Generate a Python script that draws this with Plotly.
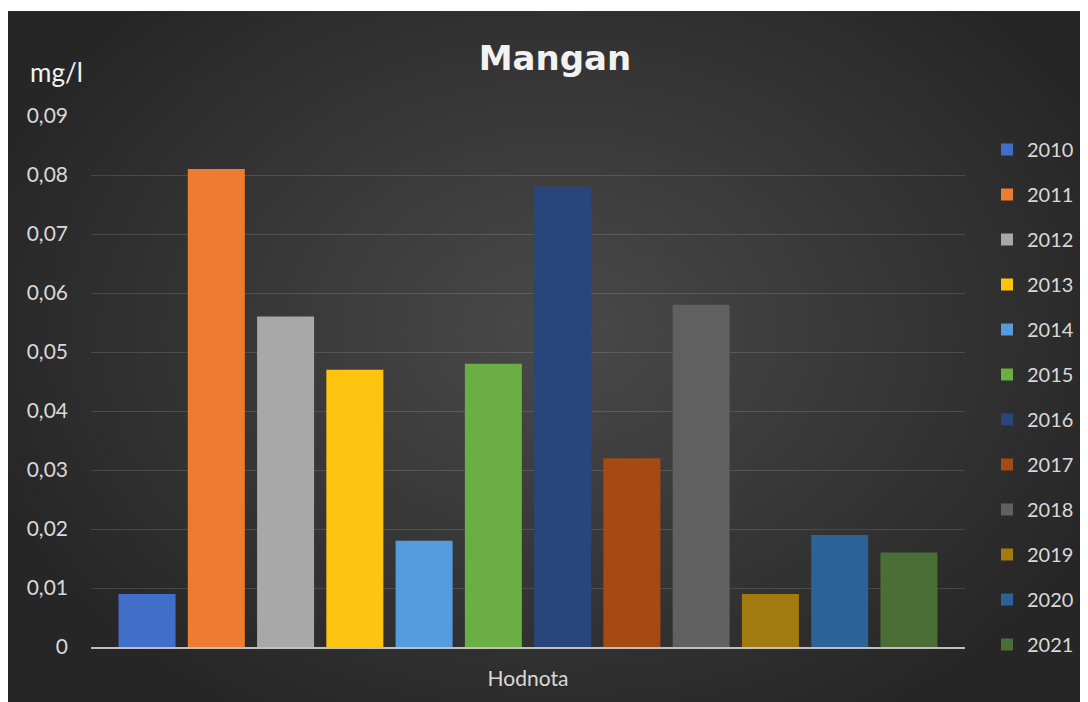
import base64, struct, zlib
import numpy as np
import plotly.graph_objects as go

years = ["2010", "2011", "2012", "2013", "2014", "2015", "2016", "2017", "2018", "2019", "2020", "2021"]
values = [0.009, 0.081, 0.056, 0.047, 0.018, 0.048, 0.078, 0.032, 0.058, 0.009, 0.019, 0.016]
colors = ["#416FC8", "#EE7C30", "#A8A8A8", "#FFC40F", "#559CDF", "#6AAE44",
          "#2A4579", "#A54A12", "#606060", "#A27A10", "#2B6298", "#4A6E35"]
category = ["Hodnota"]
tick_vals = [0, 0.01, 0.02, 0.03, 0.04, 0.05, 0.06, 0.07, 0.08, 0.09]
tick_text = ["0", "0,01", "0,02", "0,03", "0,04", "0,05", "0,06", "0,07", "0,08", "0,09"]

# page has an 8px body margin, so the figure is 8px smaller than the window
W, H = 1080, 694
L, R, T, B = 83, 123, 108, 55
PW, PH = W - L - R, H - T - B
TOP_WHITE = 3


def png_uri(arr):
    h, w, _ = arr.shape
    raw = b"".join(b"\x00" + arr[i].tobytes() for i in range(h))

    def chunk(tag, data):
        c = struct.pack(">I", len(data)) + tag + data
        return c + struct.pack(">I", zlib.crc32(tag + data) & 0xFFFFFFFF)

    png = b"\x89PNG\r\n\x1a\n" + chunk(b"IHDR", struct.pack(">IIBBBBB", w, h, 8, 2, 0, 0, 0))
    png += chunk(b"IDAT", zlib.compress(raw, 9)) + chunk(b"IEND", b"")
    return "data:image/png;base64," + base64.b64encode(png).decode()


# radial dark background gradient
gw, gh = 270, 173
xs = np.linspace(0, W, gw)
ys = np.linspace(TOP_WHITE, H, gh)
X, Y = np.meshgrid(xs, ys)
d = np.sqrt(((X - 552) / 620) ** 2 + ((Y - 322) / 460) ** 2)
c = 38 + 36 * (1 - np.clip(d, 0, 1))
bg = np.repeat(c[:, :, None], 3, axis=2).astype(np.uint8)

fig = go.Figure()
for yr, v, col in zip(years, values, colors):
    fig.add_trace(go.Bar(x=category, y=[v], name=yr, marker=dict(color=col, line=dict(width=0)),
                         legendgroup=yr))

fig.update_layout(
    width=W, height=H,
    margin=dict(l=L, r=R, t=T, b=B, autoexpand=False),
    paper_bgcolor="white",
    plot_bgcolor="rgba(0,0,0,0)",
    barmode="group", bargap=0.049, bargroupgap=0.177,
    font=dict(family="Lato, Open Sans, sans-serif", color="#D9D9D9", size=21),
    title=dict(text="<b>Mangan</b>", x=547 / W, xanchor="center", y=1 - 50 / H, yanchor="middle",
               yref="container", font=dict(family="DejaVu Sans, sans-serif", size=34, color="#F2F2F2")),
    showlegend=True,
    legend=dict(x=(979 - L) / PW, xanchor="left", y=(H - B - 122) / PH, yanchor="top",
                font=dict(size=20, color="#D9D9D9"), tracegroupgap=16, bgcolor="rgba(0,0,0,0)",
                maxheight=690),
    xaxis=dict(showline=True, linecolor="#BFBFBF", linewidth=2, ticks="", showgrid=False,
               tickfont=dict(size=21, color="#D9D9D9"), ticklabelstandoff=12),
    yaxis=dict(range=[0, 0.09], tickvals=tick_vals, ticktext=tick_text, showgrid=True,
               gridcolor="rgba(217,217,217,0.16)", gridwidth=1, zeroline=False, showline=False,
               ticks="", ticklabelstandoff=22, tickfont=dict(size=21, color="#D9D9D9")),
    images=[dict(source=png_uri(bg), xref="paper", yref="paper",
                 x=-L / PW, y=(H - B - TOP_WHITE) / PH, sizex=W / PW, sizey=(H - TOP_WHITE) / PH,
                 xanchor="left", yanchor="top", sizing="stretch", layer="below")],
    annotations=[dict(text="mg/l", xref="paper", yref="paper", x=(20 - L) / PW, xanchor="left",
                      y=(H - B - 64) / PH, yanchor="middle", showarrow=False,
                      font=dict(size=26, color="#F2F2F2"))],
)

fig.write_html("out.html")
